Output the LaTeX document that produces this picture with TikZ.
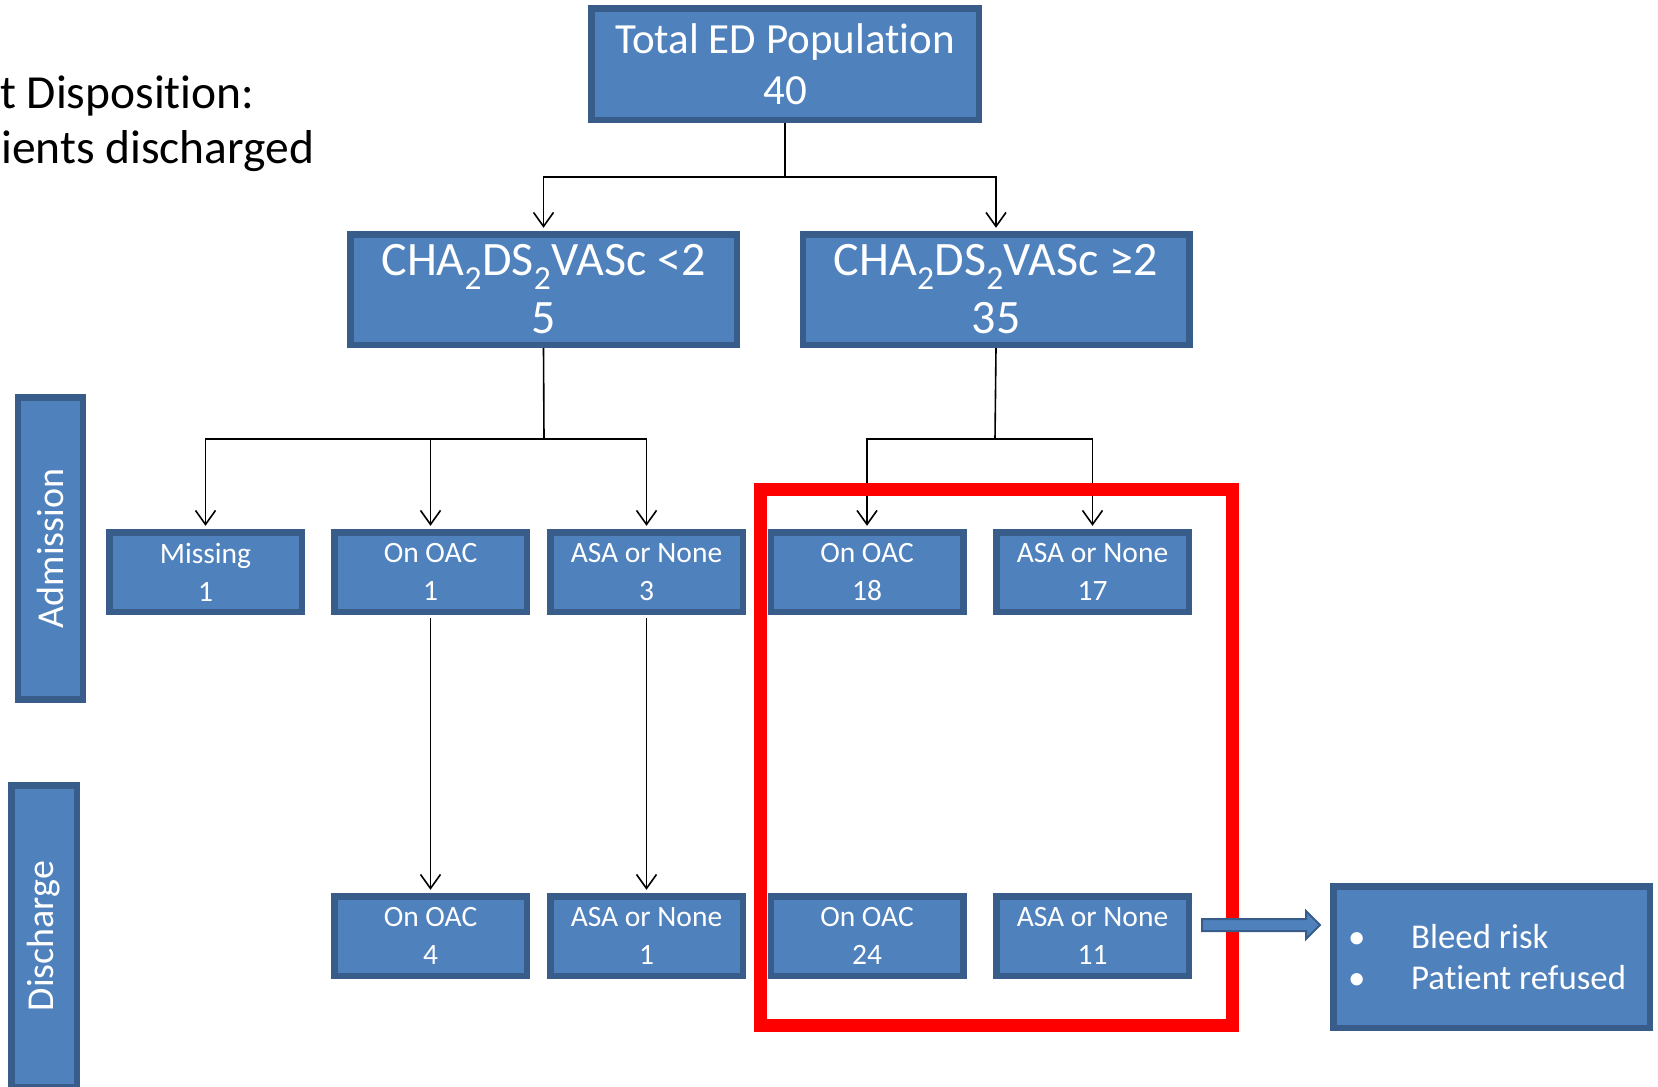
\documentclass[tikz,border=0pt]{standalone}
\usepackage{fontspec}
\setmainfont{Carlito}[Ligatures={NoCommon}]
\usetikzlibrary{arrows.meta,calc}
\definecolor{boxfill}{HTML}{4F81BD}
\definecolor{boxline}{HTML}{385D8A}
\definecolor{hired}{HTML}{FF0000}
\begin{document}
\begin{tikzpicture}[x=1pt,y=-1pt,
  bluebox/.style={draw=boxline, fill=boxfill, line width=6.5pt, text=white, inner sep=0pt, align=center},
  topbox/.style={bluebox, minimum width=387.5pt, minimum height=111.5pt, font=\fontsize{43}{51}\selectfont},
  bigbox/.style={bluebox, minimum width=386.5pt, minimum height=110.5pt, font=\fontsize{48}{58}\selectfont},
  smallbox/.style={bluebox, minimum width=192.5pt, minimum height=79.5pt, font=\fontsize{29.5}{38}\selectfont},
  sidebar/.style={bluebox, rotate=90, minimum width=302pt, minimum height=65pt, font=\fontsize{38}{46}\selectfont},
  conn/.style={line width=1.6pt, black},
  arr/.style={conn, -{Straight Barb[length=14pt,width=20pt]}, shorten >=3.2pt},
  plaintext/.style={anchor=base west, inner sep=0pt, font=\fontsize{47.5}{56}\selectfont, text=black}
]
\useasboundingbox (0,0) rectangle (1658,1087);
\clip (0,0) rectangle (1658,1087);

% top-left text
\node[plaintext] (disp1) at (0,108) {t Disposition:};
\node[plaintext] (disp2) at (1,163) {ients discharged};

% side bars
\node[sidebar] (admbar) at (50.5,548.5) {Admission};
\node[sidebar, minimum width=301.5pt, minimum height=65.5pt] (disbar) at (44,936) {Discharge};

% tree boxes
\node[topbox] (total) at (785,64) {Total ED Population\\40};
\node[bigbox] (chaL) at (543.5,289.5) {CHA\textsubscript{2}DS\textsubscript{2}VASc <2\\5};
\node[bigbox] (chaR) at (996,289.5) {CHA\textsubscript{2}DS\textsubscript{2}VASc ≥2\\35};

\node[smallbox] (miss) at (205.5,572) {Missing\\1};
\node[smallbox] (oacA) at (430.5,572) {On OAC\\1};
\node[smallbox] (asaA) at (646.5,572) {ASA or None\\3};
\node[smallbox] (oacB) at (867,572) {On OAC\\18};
\node[smallbox] (asaB) at (1092.5,572) {ASA or None\\17};

\node[smallbox] (oacC) at (430.5,936) {On OAC\\4};
\node[smallbox] (asaC) at (646.5,936) {ASA or None\\1};
\node[smallbox] (oacD) at (867,936) {On OAC\\24};
\node[smallbox] (asaD) at (1092.5,936) {ASA or None\\11};

% reasons box
\node[bluebox, minimum width=316.5pt, minimum height=141.5pt] (reasons) at (1491.5,957) {};
\node[inner sep=0pt, text=white, anchor=west, font=\fontsize{34.8}{41}\selectfont] (reasonsText) at ($(reasons.west)+(18,4)$)
  {\begin{tabular}{@{}p{63pt}@{}l@{}}\textbullet & Bleed risk\\ \textbullet & Patient refused\end{tabular}};

% junctions
\coordinate (j1) at (785,177);
\coordinate (j2) at (544,439);
\coordinate (j3) at (995,439);

% connectors
\draw[conn] (total.south) -- (j1);
\draw[arr] (j1) -| (chaL.north);
\draw[arr] (j1) -| (chaR.north);

\draw[conn] (chaL.south) -- (j2);
\draw[arr] (j2) -| (miss.north);
\draw[arr] (j2) -| (oacA.north);
\draw[arr] (j2) -| (asaA.north);

\draw[conn] (chaR.south) -- (j3);
\draw[arr] (j3) -| (oacB.north);
\draw[arr] (j3) -| (asaB.north);

\draw[arr, shorten <=3.2pt] (oacA.south) -- (oacC.north);
\draw[arr, shorten <=3.2pt] (asaA.south) -- (asaC.north);

% red highlight frame
\node[draw=hired, line width=13pt, inner sep=0pt, minimum width=472pt, minimum height=536pt] (frame) at (996,757) {};

% block arrow to reasons box
\coordinate (bs) at (1202,925);
\coordinate (be) at (1320,925);
\filldraw[fill=boxfill, draw=boxline, line width=2pt, line join=miter]
  ($(bs)+(0,-6)$) -- ($(be)+(-14,-6)$) -- ($(be)+(-14,-14)$) -- (be)
  -- ($(be)+(-14,14)$) -- ($(be)+(-14,6)$) -- ($(bs)+(0,6)$) -- cycle;
\end{tikzpicture}
\end{document}
